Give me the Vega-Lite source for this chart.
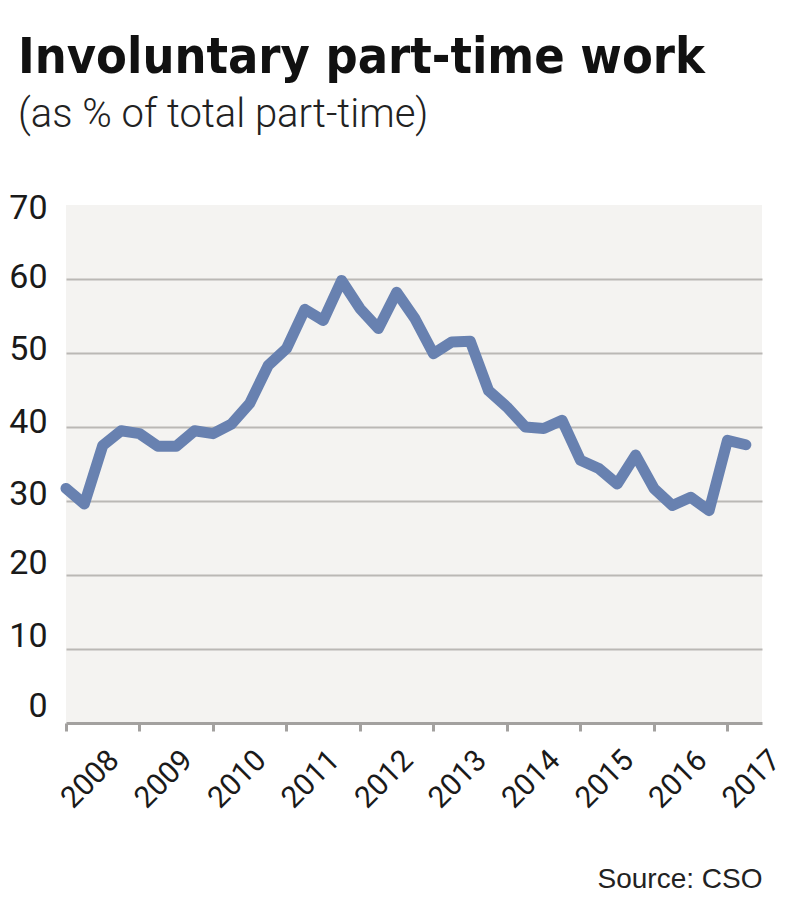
{
  "$schema": "https://vega.github.io/schema/vega-lite/v6.json",
  "autosize": {"type": "none"},
  "width": 696,
  "height": 518,
  "padding": {"left": 66, "top": 205, "right": 38, "bottom": 190},
  "background": "#ffffff",
  "view": {"fill": "#f4f3f1", "stroke": null},
  "title": {
    "text": "Involuntary part-time work",
    "subtitle": "(as % of total part-time)",
    "anchor": "start",
    "frame": "group",
    "dx": -48,
    "offset": 56,
    "font": "DejaVu Sans Condensed",
    "fontWeight": "bold",
    "fontSize": 50,
    "color": "#111111",
    "subtitleFont": "Roboto",
    "subtitleFontWeight": 300,
    "subtitleFontSize": 40,
    "subtitleColor": "#222222",
    "subtitlePadding": 12
  },
  "data": {
    "values": [
      {"t": 2008.00, "v": 31.7}, {"t": 2008.25, "v": 29.6}, {"t": 2008.50, "v": 37.5}, {"t": 2008.75, "v": 39.5},
      {"t": 2009.00, "v": 39.1}, {"t": 2009.25, "v": 37.4}, {"t": 2009.50, "v": 37.4}, {"t": 2009.75, "v": 39.5},
      {"t": 2010.00, "v": 39.1}, {"t": 2010.25, "v": 40.4}, {"t": 2010.50, "v": 43.2}, {"t": 2010.75, "v": 48.3},
      {"t": 2011.00, "v": 50.6}, {"t": 2011.25, "v": 55.9}, {"t": 2011.50, "v": 54.4}, {"t": 2011.75, "v": 59.8},
      {"t": 2012.00, "v": 56.0}, {"t": 2012.25, "v": 53.3}, {"t": 2012.50, "v": 58.2}, {"t": 2012.75, "v": 54.6},
      {"t": 2013.00, "v": 49.9}, {"t": 2013.25, "v": 51.5}, {"t": 2013.50, "v": 51.6}, {"t": 2013.75, "v": 44.9},
      {"t": 2014.00, "v": 42.7}, {"t": 2014.25, "v": 40.0}, {"t": 2014.50, "v": 39.8}, {"t": 2014.75, "v": 40.9},
      {"t": 2015.00, "v": 35.5}, {"t": 2015.25, "v": 34.4}, {"t": 2015.50, "v": 32.3}, {"t": 2015.75, "v": 36.2},
      {"t": 2016.00, "v": 31.7}, {"t": 2016.25, "v": 29.4}, {"t": 2016.50, "v": 30.5}, {"t": 2016.75, "v": 28.7},
      {"t": 2017.00, "v": 38.2}, {"t": 2017.25, "v": 37.6}
    ]
  },
  "mark": {"type": "line", "color": "#6881b0", "strokeWidth": 11, "strokeCap": "round", "strokeJoin": "round"},
  "encoding": {
    "x": {
      "field": "t",
      "type": "quantitative",
      "scale": {"domain": [2008, 2017.47], "nice": false, "zero": false},
      "axis": {
        "values": [2008, 2009, 2010, 2011, 2012, 2013, 2014, 2015, 2016, 2017],
        "format": "d",
        "grid": false,
        "domain": true,
        "domainColor": "#a3a19f",
        "domainWidth": 3,
        "ticks": true,
        "tickColor": "#a3a19f",
        "tickWidth": 3,
        "tickSize": 8,
        "labelAngle": -45,
        "labelAlign": "center",
        "labelBaseline": "middle",
        "labelPadding": 48,
        "labelOffset": 24,
        "labelFont": "Roboto",
        "labelFontSize": 30,
        "labelColor": "#1a1a1a",
        "labelFlush": false,
        "labelOverlap": false,
        "title": "Source: CSO",
        "titleFont": "Liberation Sans",
        "titleFontSize": 28,
        "titleFontWeight": "normal",
        "titleColor": "#222222",
        "titleAnchor": "end",
        "titleAlign": "right",
        "titlePadding": 52
      }
    },
    "y": {
      "field": "v",
      "type": "quantitative",
      "scale": {"domain": [0, 70], "nice": false},
      "axis": {
        "values": [0, 10, 20, 30, 40, 50, 60, 70],
        "domain": false,
        "ticks": false,
        "grid": true,
        "gridColor": {"condition": {"test": "datum.value === 70 || datum.value === 0", "value": "transparent"}, "value": "#bab8b5"},
        "gridWidth": 2,
        "labelFont": "Roboto",
        "labelFontSize": 34,
        "labelColor": "#1a1a1a",
        "labelPadding": 19,
        "labelBaseline": "middle",
        "labelOffset": {
          "condition": [
            {"test": "datum.value >= 70", "value": 3},
            {"test": "datum.value >= 60", "value": -2},
            {"test": "datum.value >= 50", "value": -4},
            {"test": "datum.value >= 40", "value": -5},
            {"test": "datum.value >= 30", "value": -7},
            {"test": "datum.value >= 20", "value": -12},
            {"test": "datum.value >= 10", "value": -13}
          ],
          "value": -17
        },
        "labelFlush": false,
        "title": null
      }
    }
  }
}
